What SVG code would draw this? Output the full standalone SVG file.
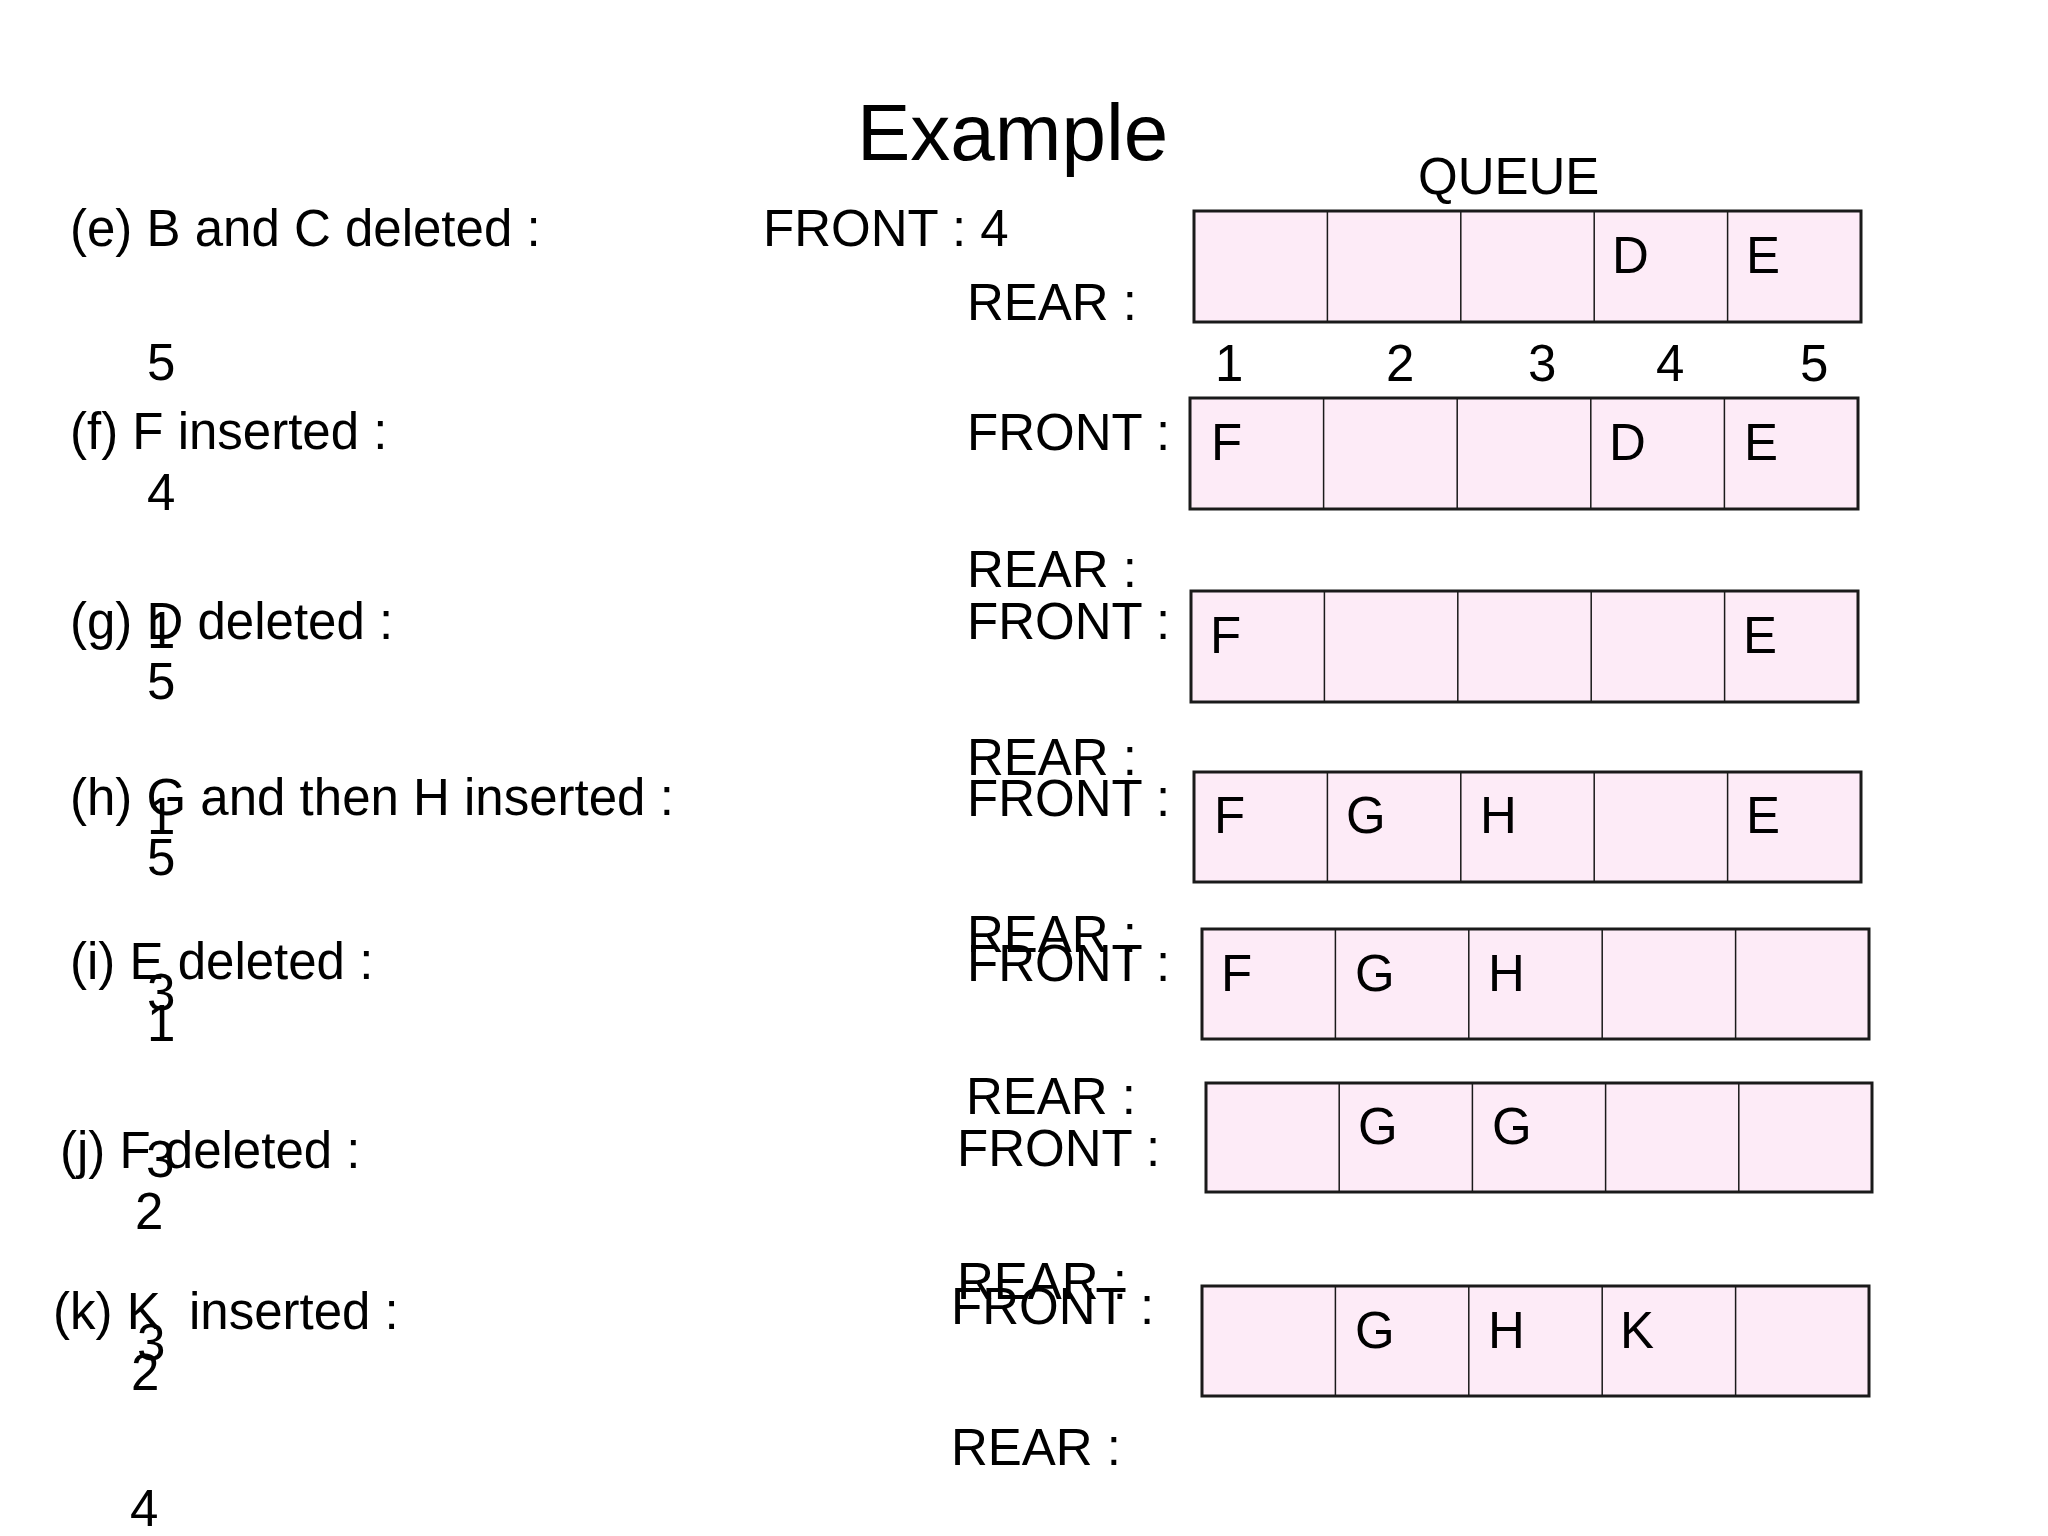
<svg xmlns="http://www.w3.org/2000/svg" width="2048" height="1536" viewBox="0 0 2048 1536">
<style>
text { font-family: "Liberation Sans", Arial, sans-serif; font-size: 51px; fill: #000; }
.title { font-size: 80px; }
.box { fill: #fdebf7; stroke: #1a1a1a; stroke-width: 3; }
.div { stroke: #1a1a1a; stroke-width: 1.5; }
</style>
<rect width="2048" height="1536" fill="#fff"/>
<text class="title" x="857" y="160">Example</text>
<text x="1418" y="194">QUEUE</text>

<g id="left-labels">
<text x="70" y="246">(e) B and C deleted :</text>
<text x="147" y="380">5</text>
<text x="70" y="449">(f) F inserted :</text>
<text x="147" y="510">4</text>
<text x="70" y="639">(g) D deleted :</text>
<text x="147" y="648">1</text>
<text x="147" y="699">5</text>
<text x="70" y="815">(h) G and then H inserted :</text>
<text x="147" y="834">1</text>
<text x="147" y="875">5</text>
<text x="70" y="979">(i) E deleted :</text>
<text x="147" y="1010">3</text>
<text x="147" y="1041">1</text>
<text x="60" y="1168">(j) F deleted :</text>
<text x="146" y="1177">3</text>
<text x="135" y="1229">2</text>
<text x="53" y="1329" xml:space="preserve">(k) K  inserted :</text>
<text x="137" y="1360">3</text>
<text x="131" y="1390">2</text>
<text x="130" y="1526">4</text>
</g>

<g id="pointer-labels">
<text x="763" y="246">FRONT : 4</text>
<text x="967" y="320">REAR :</text>
<text x="967" y="450">FRONT :</text>
<text x="967" y="587">REAR :</text>
<text x="967" y="639">FRONT :</text>
<text x="967" y="775">REAR :</text>
<text x="967" y="816">FRONT :</text>
<text x="967" y="952">REAR :</text>
<text x="967" y="981">FRONT :</text>
<text x="966" y="1114">REAR :</text>
<text x="957" y="1166">FRONT :</text>
<text x="957" y="1299">REAR :</text>
<text x="951" y="1324">FRONT :</text>
<text x="951" y="1465">REAR :</text>
</g>

<g id="index-labels">
<text x="1215" y="381">1</text>
<text x="1386" y="381">2</text>
<text x="1528" y="381">3</text>
<text x="1656" y="381">4</text>
<text x="1800" y="381">5</text>
</g>

<g id="queue-e">
<rect class="box" x="1194" y="211" width="667" height="111"/>
<path class="div" d="M1327.4 211V322M1460.8 211V322M1594.2 211V322M1727.6 211V322"/>
<text x="1612" y="273">D</text>
<text x="1746" y="273">E</text>
</g>

<g id="queue-f">
<rect class="box" x="1190" y="398" width="668" height="111"/>
<path class="div" d="M1323.6 398V509M1457.2 398V509M1590.8 398V509M1724.4 398V509"/>
<text x="1211" y="460">F</text>
<text x="1609" y="460">D</text>
<text x="1744" y="460">E</text>
</g>

<g id="queue-g">
<rect class="box" x="1191" y="591" width="667" height="111"/>
<path class="div" d="M1324.4 591V702M1457.8 591V702M1591.2 591V702M1724.6 591V702"/>
<text x="1210" y="653">F</text>
<text x="1743" y="653">E</text>
</g>

<g id="queue-h">
<rect class="box" x="1194" y="772" width="667" height="110"/>
<path class="div" d="M1327.4 772V882M1460.8 772V882M1594.2 772V882M1727.6 772V882"/>
<text x="1214" y="833">F</text>
<text x="1346" y="833">G</text>
<text x="1480" y="833">H</text>
<text x="1746" y="833">E</text>
</g>

<g id="queue-i">
<rect class="box" x="1202" y="929" width="667" height="110"/>
<path class="div" d="M1335.4 929V1039M1468.8 929V1039M1602.2 929V1039M1735.6 929V1039"/>
<text x="1221" y="991">F</text>
<text x="1355" y="991">G</text>
<text x="1488" y="991">H</text>
</g>

<g id="queue-j">
<rect class="box" x="1206" y="1083" width="666" height="109"/>
<path class="div" d="M1339.2 1083V1192M1472.4 1083V1192M1605.6 1083V1192M1738.8 1083V1192"/>
<text x="1358" y="1144">G</text>
<text x="1492" y="1144">G</text>
</g>

<g id="queue-k">
<rect class="box" x="1202" y="1286" width="667" height="110"/>
<path class="div" d="M1335.4 1286V1396M1468.8 1286V1396M1602.2 1286V1396M1735.6 1286V1396"/>
<text x="1355" y="1348">G</text>
<text x="1488" y="1348">H</text>
<text x="1620" y="1348">K</text>
</g>

<g id="connectors"></g>
</svg>
